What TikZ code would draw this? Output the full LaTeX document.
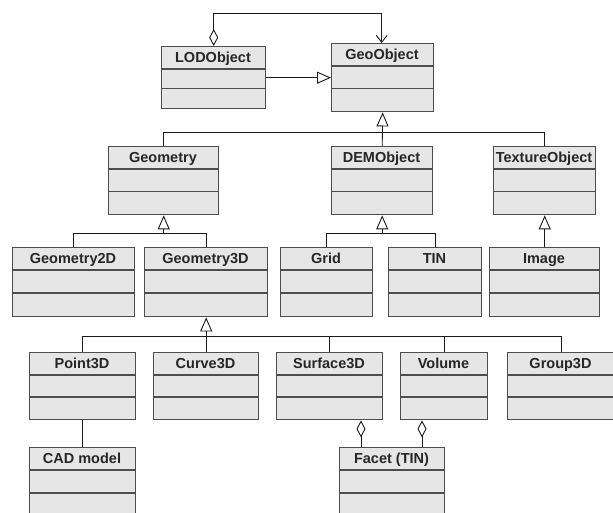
\documentclass[tikz,border=0pt]{standalone}
\usepackage{fontspec}
\setmainfont{Liberation Sans}
\usetikzlibrary{arrows.meta}
\definecolor{boxfill}{HTML}{E6E6E6}
\definecolor{boxline}{HTML}{4D4D4D}
\definecolor{linecol}{HTML}{1A1A1A}
\definecolor{txtcol}{HTML}{262626}
\tikzset{
  classbox/.style={draw=boxline, fill=boxfill, line width=1.4pt, inner sep=0pt, anchor=north west},
  divider/.style={draw=boxline, line width=1.3pt},
  titletext/.style={text=txtcol, font=\bfseries\fontsize{14.5}{16}\selectfont, inner sep=0pt, text height=10.4pt, text depth=0pt, anchor=center},
  conn/.style={draw=linecol, line width=0.9pt},
  gentip/.style={-{Triangle[open, length=14pt, width=12pt, line width=0.9pt]}},
  aggtip/.style={{Diamond[open, length=17pt, width=9pt, line width=0.9pt]}-},
  aggnav/.style={{Diamond[open, length=17pt, width=9pt, line width=0.9pt]}-{Straight Barb[length=7pt, width=11pt, line width=0.9pt]}}
}
\newcommand{\umlclass}[6]{%
  \pgfmathsetmacro{\ucw}{#4-#2}%
  \pgfmathsetmacro{\uch}{#5-#3}%
  \pgfmathsetmacro{\ucx}{(#2+#4)/2}%
  \pgfmathsetmacro{\ucda}{#3+23}%
  \pgfmathsetmacro{\ucdb}{(#3+23+#5)/2}%
  \node[classbox, minimum width=\ucw pt, minimum height=\uch pt] (#1) at (#2,#3) {};
  \draw[divider] (#2,\ucda) -- (#4,\ucda);
  \draw[divider] (#2,\ucdb) -- (#4,\ucdb);
  \node[titletext] (#1-t) at (\ucx,#3+11.5) {#6};
}
\begin{document}
\begin{tikzpicture}[x=1pt, y=-1pt]
\fill[white] (0,0) rectangle (613,513);
\useasboundingbox (0,0) rectangle (613,513);
\clip (0,0) rectangle (613,513);
% classes
\umlclass{lod}{161}{46}{265}{108}{LODObject}
\umlclass{geo}{331}{43}{433}{111}{GeoObject}
\umlclass{geometry}{108}{146}{218}{214}{Geometry}
\umlclass{dem}{331}{146}{432}{214}{DEMObject}
\umlclass{texture}{493}{146}{595}{214}{TextureObject}
\umlclass{gtwo}{12}{247}{134}{316}{Geometry2D}
\umlclass{gthree}{144}{247}{267}{316}{Geometry3D}
\umlclass{grid}{280}{247}{372}{316}{Grid}
\umlclass{tin}{388}{247}{481}{316}{TIN}
\umlclass{image}{489}{247}{599}{316}{Image}
\umlclass{point}{29}{352}{135}{419}{Point3D}
\umlclass{curve}{153}{352}{258}{419}{Curve3D}
\umlclass{surface}{276}{352}{382}{419}{Surface3D}
\umlclass{volume}{400}{352}{487}{419}{Volume}
\umlclass{group}{507}{352}{614}{419}{Group3D}
\umlclass{cad}{29}{447}{135}{516}{CAD model}
\umlclass{facet}{339}{447}{444}{516}{Facet (TIN)}
% helper coordinates
\coordinate (topline) at (0,13);
\coordinate (bus1) at (0,132);
\coordinate (bus2) at (0,233);
\coordinate (bus3) at (0,336);
\coordinate (fa) at (361,0);
\coordinate (fb) at (422,0);
% LODObject -> GeoObject association
\draw[conn, aggnav] (lod.north) -- (lod.north |- topline) -- ([xshift=-1pt]geo.north |- topline) -- ([xshift=-1pt]geo.north);
% LODObject generalization
\draw[conn, gentip] (lod.east) -- (geo.west);
% GeoObject children
\draw[conn, gentip] (dem.north) -- (geo.south);
\draw[conn] (geometry.north) -- (geometry.north |- bus1) -- (texture.north |- bus1) -- (texture.north);
% Geometry children
\draw[conn, gentip] (gtwo.north) -- (gtwo.north |- bus2) -- (geometry.south |- bus2) -- (geometry.south);
\draw[conn] (gthree.north) -- (gthree.north |- bus2) -- (geometry.south |- bus2);
% DEMObject children
\draw[conn, gentip] (grid.north) -- (grid.north |- bus2) -- (dem.south |- bus2) -- (dem.south);
\draw[conn] (tin.north) -- (tin.north |- bus2) -- (dem.south |- bus2);
% TextureObject child
\draw[conn, gentip] (image.north) -- (texture.south);
% Geometry3D children
\draw[conn, gentip] (curve.north) -- (gthree.south);
\draw[conn] (point.north) -- (point.north |- bus3) -- (group.north |- bus3) -- (group.north);
\draw[conn] (surface.north) -- (surface.north |- bus3);
\draw[conn] (volume.north) -- (volume.north |- bus3);
% Point3D -- CAD model
\draw[conn] (point.south) -- (cad.north);
% Facet aggregations
\draw[conn, aggtip] (surface.south -| fa) -- (facet.north -| fa);
\draw[conn, aggtip] (volume.south -| fb) -- (facet.north -| fb);
\end{tikzpicture}
\end{document}
